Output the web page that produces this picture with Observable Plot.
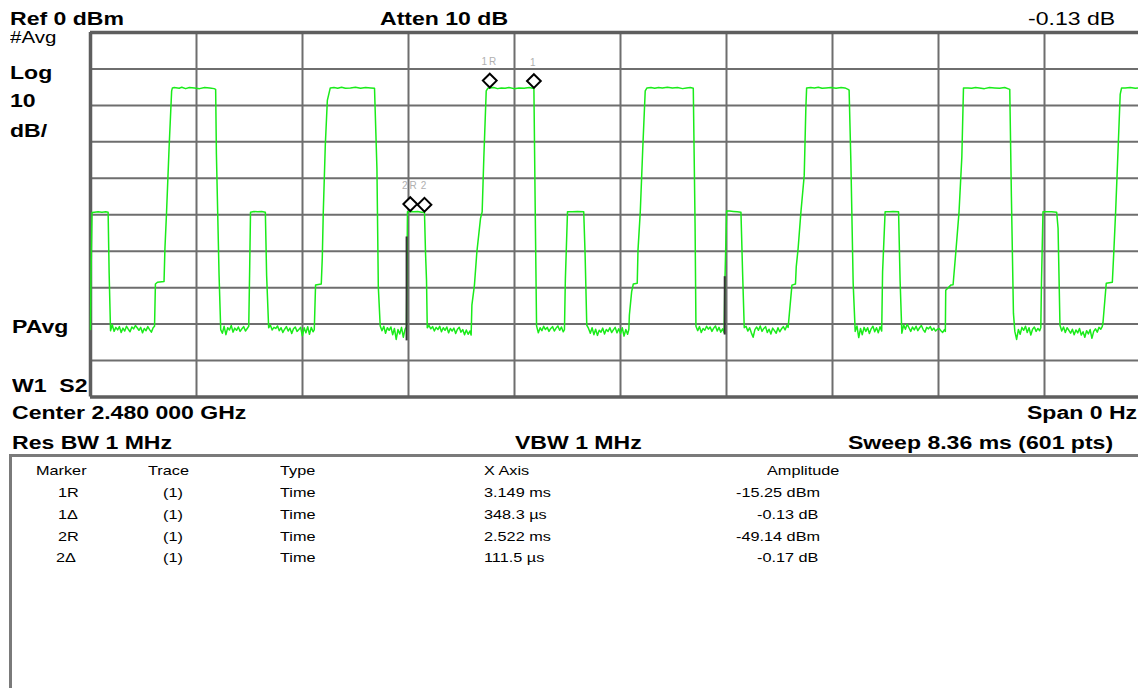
<!DOCTYPE html>
<html>
<head>
<meta charset="utf-8">
<script src="https://cdn.jsdelivr.net/npm/d3@7"></script>
<script src="https://cdn.jsdelivr.net/npm/@observablehq/plot@0.6"></script>
<style>
  html, body { margin: 0; padding: 0; background: #fff; }
  body { position: relative; width: 1138px; height: 688px; overflow: hidden; }
  #chart { position: absolute; left: 0; top: 0; width: 1170px; }
  #chart svg { max-width: none !important; width: 1170px; height: 400px; }
  .t { position: absolute; white-space: pre; color: #000; transform-origin: 0 0; font-family: 'Liberation Sans', Arial, sans-serif; }
  #box { position: absolute; left: 9px; top: 454px; width: 1200px; height: 300px; border-top: 3px solid #7a7a7a; border-left: 3px solid #7a7a7a; }
  .mlab text { letter-spacing: 2px; }
</style>
</head>
<body>
<div id="box"></div>
<div id="chart"></div>
<script>
// ---- data ----
// Sweep: 0 .. 8.36 ms, Ref 0 dBm, 10 dB/div
const sweepMs = [0, 8.36];
const levelRangeDbm = [-100, 0];
const gridTimesMs = [0, 0.836, 1.672, 2.508, 3.344, 4.18, 5.016, 5.852, 6.688, 7.524, 8.36];
const gridLevelsDbm = [0, -10, -20, -30, -40, -50, -60, -70, -80, -90, -100];

// trace vertices [time ms, level dBm]
const trace = [
  [0, -81.5], [0.004, -66.5], [0.012, -49.4], [0.03, -49.3], [0.06, -49.2], [0.09, -49.3], [0.12, -49.2], [0.139, -49.3], [0.147, -66.0], [0.158, -81.8],
  [0.172, -80.2], [0.186, -82.0], [0.200, -80.9], [0.214, -81.6], [0.228, -80.7], [0.242, -82.3], [0.256, -81.1], [0.270, -81.9], [0.284, -80.6], [0.298, -81.4],
  [0.312, -82.1], [0.326, -80.8], [0.340, -81.3], [0.354, -80.4], [0.368, -81.0], [0.382, -81.7], [0.396, -80.9], [0.410, -82.4], [0.424, -81.2], [0.438, -81.8],
  [0.452, -80.7], [0.466, -81.5], [0.480, -82.2], [0.494, -81.0], [0.505, -80.6],
  [0.512, -69.0], [0.528, -68.5], [0.580, -68.3], [0.587, -59.3], [0.600, -49.2], [0.620, -31.5], [0.640, -16.0], [0.646, -15.2],
  [0.66, -15.1], [0.70, -15.3], [0.72, -15.0], [0.75, -15.4], [0.78, -15.1], [0.82, -15.2], [0.86, -15.4], [0.90, -15.1], [0.94, -15.2], [0.975, -15.4], [0.987, -15.6],
  [0.993, -33.4], [1.014, -66.6], [1.027, -81.5],
  [1.040, -82.5], [1.054, -80.6], [1.068, -82.9], [1.082, -81.0], [1.096, -81.6], [1.110, -80.4], [1.124, -82.2], [1.138, -81.1], [1.152, -81.7], [1.166, -80.8],
  [1.180, -82.0], [1.194, -81.3], [1.208, -80.7], [1.222, -81.9], [1.236, -81.2], [1.248, -80.6],
  [1.255, -65.7], [1.262, -49.3], [1.29, -49.1], [1.32, -49.2], [1.35, -49.1], [1.379, -49.3], [1.389, -66.6], [1.405, -81.0],
  [1.419, -80.3], [1.433, -81.6], [1.447, -80.9], [1.461, -81.2], [1.475, -80.5], [1.489, -81.8], [1.503, -81.0], [1.517, -82.3], [1.531, -81.4], [1.545, -80.7],
  [1.559, -81.9], [1.573, -81.1], [1.587, -82.6], [1.601, -81.3], [1.615, -80.8], [1.629, -82.0], [1.643, -81.5], [1.657, -80.9], [1.671, -83.2], [1.685, -81.0],
  [1.699, -82.4], [1.713, -80.7], [1.727, -82.8], [1.741, -80.9], [1.755, -82.1], [1.765, -81.5],
  [1.775, -69.3], [1.820, -69.0], [1.828, -61.9], [1.836, -49.2], [1.852, -30.7], [1.868, -18.6], [1.891, -15.2],
  [1.92, -15.1], [1.95, -15.3], [1.98, -15.0], [2.01, -15.3], [2.05, -15.2], [2.09, -15.0], [2.13, -15.3], [2.17, -15.1], [2.21, -15.2], [2.240, -15.3],
  [2.259, -37.3], [2.270, -69.8], [2.285, -80.5],
  [2.299, -81.8], [2.313, -80.6], [2.327, -82.5], [2.341, -81.0], [2.355, -81.7], [2.369, -80.8], [2.383, -82.9], [2.397, -81.2], [2.411, -84.2], [2.425, -81.5],
  [2.439, -82.7], [2.453, -80.9], [2.467, -83.6], [2.481, -81.4], [2.492, -80.8],
  [2.500, -49.2], [2.522, -49.14], [2.55, -49.2], [2.58, -49.1], [2.61, -49.3], [2.634, -49.31], [2.642, -60.2], [2.650, -67.9], [2.656, -81.0],
  [2.670, -80.4], [2.684, -81.3], [2.698, -80.7], [2.712, -81.9], [2.726, -80.9], [2.740, -81.5], [2.754, -80.6], [2.768, -82.1], [2.782, -81.0], [2.796, -81.7],
  [2.810, -80.8], [2.824, -82.4], [2.838, -81.2], [2.852, -81.9], [2.866, -81.1], [2.880, -82.6], [2.894, -81.4], [2.908, -80.9], [2.922, -82.2], [2.936, -81.5],
  [2.950, -82.9], [2.964, -81.6], [2.978, -82.8], [2.992, -81.9], [3.002, -83.0],
  [3.008, -74.8], [3.028, -69.3], [3.047, -60.3], [3.076, -51.0], [3.089, -49.2], [3.102, -34.5], [3.121, -16.0], [3.134, -15.3],
  [3.149, -15.25], [3.18, -15.1], [3.21, -15.4], [3.24, -15.2], [3.27, -15.3], [3.30, -15.1], [3.34, -15.4], [3.38, -15.2], [3.42, -15.3], [3.46, -15.1], [3.497, -15.38],
  [3.507, -47.4], [3.518, -80.5],
  [3.532, -82.4], [3.546, -81.0], [3.560, -81.8], [3.574, -80.6], [3.588, -81.5], [3.602, -80.9], [3.616, -82.0], [3.630, -81.2], [3.644, -80.7], [3.658, -81.9],
  [3.672, -81.1], [3.686, -80.5], [3.700, -81.7], [3.714, -80.8], [3.728, -82.1], [3.738, -81.5],
  [3.745, -67.9], [3.762, -49.2], [3.80, -49.2], [3.84, -49.1], [3.890, -49.2], [3.901, -61.1], [3.914, -80.3],
  [3.928, -81.2], [3.942, -82.5], [3.956, -81.0], [3.970, -82.9], [3.984, -81.4], [3.998, -83.1], [4.012, -81.7], [4.026, -82.2], [4.040, -81.1], [4.054, -82.7],
  [4.068, -81.5], [4.082, -82.0], [4.096, -81.0], [4.110, -82.3], [4.124, -81.6], [4.138, -80.9], [4.152, -82.4], [4.166, -81.3], [4.180, -82.6], [4.194, -81.0],
  [4.208, -83.3], [4.222, -81.5], [4.236, -82.8], [4.246, -81.4],
  [4.250, -77.5], [4.268, -71.1], [4.281, -69.0], [4.312, -68.8], [4.318, -59.7], [4.336, -49.2], [4.355, -32.3], [4.375, -16.0], [4.389, -15.2],
  [4.42, -15.1], [4.45, -15.3], [4.48, -15.1], [4.51, -15.2], [4.55, -15.0], [4.59, -15.2], [4.63, -15.1], [4.67, -15.4], [4.70, -15.2], [4.73, -15.1], [4.754, -15.3],
  [4.768, -52.3], [4.775, -80.6],
  [4.789, -81.8], [4.803, -80.7], [4.817, -82.3], [4.831, -81.2], [4.845, -81.7], [4.859, -80.6], [4.873, -81.4], [4.887, -80.8], [4.901, -82.0], [4.915, -81.1],
  [4.929, -80.5], [4.943, -81.9], [4.957, -80.9], [4.971, -82.2], [4.985, -81.3], [4.997, -82.4],
  [5.004, -67.4], [5.017, -49.0], [5.04, -49.0], [5.07, -49.1], [5.10, -49.2], [5.130, -49.3], [5.143, -66.0], [5.156, -81.0],
  [5.170, -80.6], [5.184, -81.9], [5.198, -81.0], [5.212, -82.4], [5.226, -83.6], [5.240, -81.5], [5.254, -80.8], [5.268, -81.7], [5.282, -80.5], [5.296, -82.0],
  [5.310, -81.2], [5.324, -80.7], [5.338, -82.3], [5.352, -81.4], [5.366, -82.7], [5.380, -81.1], [5.394, -81.8], [5.408, -82.5], [5.422, -81.0], [5.436, -82.1],
  [5.450, -81.3], [5.464, -80.7], [5.478, -81.6], [5.492, -80.4], [5.502, -80.9],
  [5.506, -79.4], [5.532, -69.3], [5.560, -69.0], [5.566, -64.3], [5.581, -59.2], [5.603, -49.2], [5.629, -39.2], [5.642, -20.5], [5.648, -15.2],
  [5.68, -15.1], [5.71, -15.2], [5.74, -15.0], [5.77, -15.3], [5.80, -15.2], [5.84, -15.1], [5.88, -15.3], [5.92, -15.1], [5.95, -15.2], [5.975, -15.6], [5.983, -15.8],
  [5.997, -35.5], [6.015, -68.8], [6.031, -82.0],
  [6.045, -80.5], [6.059, -83.7], [6.073, -81.2], [6.087, -82.9], [6.101, -80.9], [6.115, -82.0], [6.129, -81.0], [6.143, -82.6], [6.157, -81.3], [6.171, -80.6],
  [6.185, -82.1], [6.199, -81.0], [6.213, -82.4], [6.227, -80.7], [6.240, -81.9],
  [6.247, -65.7], [6.267, -49.2], [6.30, -49.2], [6.33, -49.1], [6.373, -49.2], [6.385, -67.9], [6.399, -82.5],
  [6.413, -80.2], [6.427, -81.4], [6.441, -80.0], [6.455, -81.0], [6.469, -82.0], [6.483, -80.8], [6.497, -81.6], [6.511, -80.6], [6.525, -81.8], [6.539, -81.0],
  [6.553, -80.4], [6.567, -81.5], [6.581, -82.2], [6.595, -80.9], [6.609, -81.3], [6.623, -80.7], [6.637, -81.7], [6.651, -81.1], [6.665, -81.9], [6.679, -81.4],
  [6.693, -81.2], [6.707, -81.8], [6.721, -82.3], [6.735, -81.5], [6.742, -82.0],
  [6.745, -70.7], [6.785, -69.3], [6.803, -69.2], [6.824, -60.5], [6.850, -49.2], [6.872, -34.2], [6.885, -15.2],
  [6.92, -15.2], [6.95, -15.3], [6.98, -15.1], [7.01, -15.2], [7.05, -15.4], [7.09, -15.1], [7.13, -15.2], [7.17, -15.3], [7.21, -15.1], [7.250, -15.6],
  [7.263, -45.1], [7.279, -77.0], [7.290, -82.0],
  [7.304, -84.2], [7.318, -81.5], [7.332, -82.8], [7.346, -80.9], [7.360, -81.7], [7.374, -80.6], [7.388, -82.3], [7.402, -81.0], [7.416, -83.0], [7.430, -81.4],
  [7.444, -80.8], [7.458, -82.0], [7.472, -81.2], [7.486, -81.8], [7.495, -80.9],
  [7.500, -68.8], [7.512, -49.2], [7.54, -49.2], [7.58, -49.2], [7.620, -49.3], [7.631, -53.7], [7.646, -80.3],
  [7.660, -81.9], [7.674, -80.8], [7.688, -82.3], [7.702, -81.0], [7.716, -81.7], [7.730, -82.5], [7.744, -81.4], [7.758, -82.9], [7.772, -81.6], [7.786, -82.4],
  [7.800, -81.2], [7.814, -83.0], [7.828, -82.1], [7.842, -83.6], [7.856, -81.8], [7.870, -82.7], [7.884, -81.5], [7.898, -83.9], [7.912, -82.0], [7.926, -81.3],
  [7.940, -82.2], [7.954, -80.9], [7.968, -81.4], [7.980, -80.6],
  [7.985, -79.7], [8.011, -68.8], [8.059, -68.5], [8.072, -59.2], [8.085, -49.2], [8.103, -33.2], [8.121, -17.0], [8.132, -15.2],
  [8.16, -15.2], [8.20, -15.1], [8.24, -15.3], [8.28, -15.2], [8.32, -15.1], [8.36, -15.2]
];

// dark edge segments where the trace edge sits on a grid line
const darkEdgeMs = [2.493, 5.002];
const darkEdgeTopDbm = [-56.1, -67.0];
const darkEdgeBottomDbm = [-84.6, -83.0];

// markers
const markerLabels = ["1R", "1", "2R", "2"];
const markerTimeMs = [3.149, 3.497, 2.522, 2.634];
const markerLevelDbm = [-15.25, -15.38, -49.14, -49.31];

// marker table
const tableHeaders = ["Marker", "Trace", "Type", "X Axis", "Amplitude"];
const tableMarker = ["1R", "1\u0394", "2R", "2\u0394"];
const tableTrace = ["(1)", "(1)", "(1)", "(1)"];
const tableType = ["Time", "Time", "Time", "Time"];
const tableXAxis = ["3.149 ms", "348.3 \u00b5s", "2.522 ms", "111.5 \u00b5s"];
const tableAmplitude = ["-15.25 dBm", "-0.13 dB", "-49.14 dBm", "-0.17 dB"];

// ---- chart ----
const markers = markerLabels.map((l, i) => ({label: l, t: markerTimeMs[i], v: markerLevelDbm[i]}));
const darkEdges = darkEdgeMs.map((t, i) => ({t, top: darkEdgeTopDbm[i], bottom: darkEdgeBottomDbm[i]}));
const inner = gridTimesMs.slice(1, -1);
const innerY = gridLevelsDbm.slice(1, -1);

const chart = Plot.plot({
  width: 1170, height: 400,
  marginLeft: 90, marginRight: 20, marginTop: 32, marginBottom: 3.5,
  x: {domain: sweepMs, axis: null},
  y: {domain: levelRangeDbm, axis: null},
  style: {background: "transparent", overflow: "visible", maxWidth: "none"},
  marks: [
    Plot.ruleX(inner, {stroke: "#6e6e6e", strokeWidth: 2}),
    Plot.ruleY(innerY, {stroke: "#6e6e6e", strokeWidth: 2}),
    Plot.ruleX([gridTimesMs[0], gridTimesMs[gridTimesMs.length - 1]], {stroke: "#5e5e5e", strokeWidth: 3.5}),
    Plot.ruleY([gridLevelsDbm[0], gridLevelsDbm[gridLevelsDbm.length - 1]], {stroke: "#5e5e5e", strokeWidth: 3.5}),
    Plot.line(trace, {x: d => d[0], y: d => d[1], stroke: "#1aeb1a", strokeWidth: 1.5, curve: "linear"}),
    Plot.ruleX(darkEdges, {x: "t", y1: "bottom", y2: "top", stroke: "#333", strokeWidth: 2}),
    Plot.dot(markers, {x: "t", y: "v", dy: -7.5, symbol: "diamond2", r: 6.2, stroke: "#000", strokeWidth: 2, fill: "#fff"}),
    Plot.text(markers, {x: "t", y: "v", dy: -26, text: "label", fill: "#b0b0b0", fontSize: 10, fontFamily: "Liberation Sans, Arial, sans-serif", className: "mlab"})
  ]
});
document.getElementById("chart").appendChild(chart);

// ---- text ----
function addText(txt, x, baseline, size, weight, sx) {
  const d = document.createElement("div");
  d.className = "t";
  d.textContent = txt;
  d.style.left = x + "px";
  d.style.top = (baseline - 0.8465 * size) + "px";
  d.style.fontSize = size + "px";
  d.style.lineHeight = size + "px";
  d.style.fontWeight = weight;
  d.style.transform = `scaleX(${sx})`;
  document.body.appendChild(d);
}
const S = 1.28;
addText("Ref 0 dBm", 10, 25, 18, "bold", S);
addText("Atten 10 dB", 380, 25, 18, "bold", S);
addText("-0.13 dB", 1028, 25, 18, "normal", S);
addText("#Avg", 10, 44, 16, "normal", S);
addText("Log", 10, 79, 18, "bold", S);
addText("10", 10, 107, 18, "bold", S);
addText("dB/", 10, 137, 18, "bold", S);
addText("PAvg", 12, 333, 18, "bold", S);
addText("W1  S2", 12, 392, 18, "bold", S);
addText("Center 2.480 000 GHz", 12, 419, 18, "bold", S);
addText("Span 0 Hz", 1027, 419, 18, "bold", S);
addText("Res BW 1 MHz", 12, 449, 18, "bold", S);
addText("VBW 1 MHz", 515, 449, 18, "bold", S);
addText("Sweep 8.36 ms (601 pts)", 848, 449, 18, "bold", S);

const TS = 1.25, TF = 13;
const headerX = [36, 148, 280, 484, 767];
tableHeaders.forEach((h, i) => addText(h, headerX[i], 475, TF, "normal", TS));
const rowBase = [497, 519, 541, 562];
const ampX = [736, 757, 736, 757];
const markX = [58, 58, 58, 56];
for (let i = 0; i < 4; i++) {
  addText(tableMarker[i], markX[i], rowBase[i], TF, "normal", TS);
  addText(tableTrace[i], 163, rowBase[i], TF, "normal", TS);
  addText(tableType[i], 280, rowBase[i], TF, "normal", TS);
  addText(tableXAxis[i], 484, rowBase[i], TF, "normal", TS);
  addText(tableAmplitude[i], ampX[i], rowBase[i], TF, "normal", TS);
}
</script>
</body>
</html>
